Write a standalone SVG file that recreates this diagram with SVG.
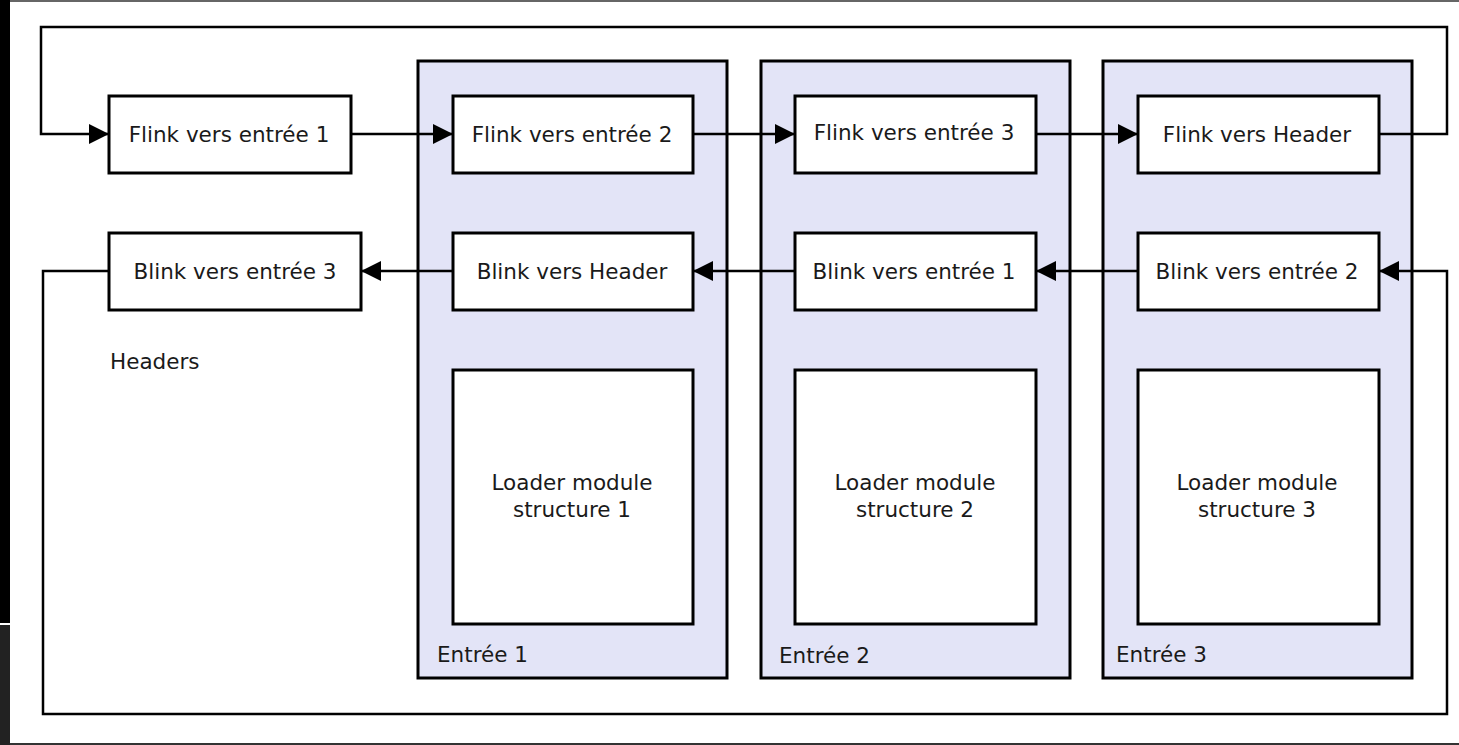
<svg xmlns="http://www.w3.org/2000/svg" width="1459" height="745" viewBox="0 0 1459 745">
<style>
.node{fill:#ffffff;stroke:#000;stroke-width:3}
.cont{fill:#e3e4f7;stroke:#000;stroke-width:3}
.wire{fill:none;stroke:#000;stroke-width:2.5}
text{font-family:"DejaVu Sans",Verdana,sans-serif;font-size:21.5px;fill:#1a1a1a}
.c{text-anchor:middle}
</style>
<defs>
<marker id="ah" viewBox="0 0 20 20" refX="20" refY="10" markerWidth="20" markerHeight="20" markerUnits="userSpaceOnUse" orient="auto">
<path d="M0,0 L20,10 L0,20 Z" fill="#000"/>
</marker>
</defs>
<rect x="0" y="0" width="1459" height="745" fill="#ffffff"/>
<rect x="0" y="0" width="1459" height="2" fill="#666"/>
<rect x="0" y="743" width="1459" height="2" fill="#333"/>
<rect x="0" y="0" width="10" height="623" fill="#000"/>
<rect x="0" y="625" width="10" height="120" fill="#222"/>

<g id="entree1">
<rect class="cont" x="418" y="61" width="309" height="617"/>
<text x="437" y="662">Entrée 1</text>
</g>
<g id="entree2">
<rect class="cont" x="761" y="61" width="309" height="617"/>
<text x="779" y="663">Entrée 2</text>
</g>
<g id="entree3">
<rect class="cont" x="1103" y="61" width="309" height="617"/>
<text x="1116" y="662">Entrée 3</text>
</g>

<g id="headers-label"><text x="110" y="369">Headers</text></g>

<g id="flink1"><rect class="node" x="109" y="96" width="242" height="77"/><text class="c" x="229" y="142">Flink vers entrée 1</text></g>
<g id="blink3"><rect class="node" x="109" y="233" width="252" height="77"/><text class="c" x="235" y="279">Blink vers entrée 3</text></g>

<g id="flink2"><rect class="node" x="453" y="96" width="240" height="77"/><text class="c" x="572" y="142">Flink vers entrée 2</text></g>
<g id="blinkh"><rect class="node" x="453" y="233" width="240" height="77"/><text class="c" x="572" y="279">Blink vers Header</text></g>
<g id="loader1"><rect class="node" x="453" y="370" width="240" height="254"/><text class="c" x="572" y="490">Loader module</text><text class="c" x="572" y="517">structure 1</text></g>

<g id="flink3"><rect class="node" x="795" y="96" width="241" height="77"/><text class="c" x="914" y="140">Flink vers entrée 3</text></g>
<g id="blink1"><rect class="node" x="795" y="233" width="241" height="77"/><text class="c" x="914" y="279">Blink vers entrée 1</text></g>
<g id="loader2"><rect class="node" x="795" y="370" width="241" height="254"/><text class="c" x="915" y="490">Loader module</text><text class="c" x="915" y="517">structure 2</text></g>

<g id="flinkh"><rect class="node" x="1138" y="96" width="241" height="77"/><text class="c" x="1257" y="142">Flink vers Header</text></g>
<g id="blink2"><rect class="node" x="1138" y="233" width="241" height="77"/><text class="c" x="1257" y="279">Blink vers entrée 2</text></g>
<g id="loader3"><rect class="node" x="1138" y="370" width="241" height="254"/><text class="c" x="1257" y="490">Loader module</text><text class="c" x="1257" y="517">structure 3</text></g>

<g id="connectors">
<path class="wire" d="M1379,134 H1447 V27 H41 V134 H109" marker-end="url(#ah)"/>
<path class="wire" d="M351,134 H453" marker-end="url(#ah)"/>
<path class="wire" d="M693,134 H795" marker-end="url(#ah)"/>
<path class="wire" d="M1036,134 H1138" marker-end="url(#ah)"/>
<path class="wire" d="M109,271 H43 V714 H1447 V271 H1379" marker-end="url(#ah)"/>
<path class="wire" d="M1138,271 H1036" marker-end="url(#ah)"/>
<path class="wire" d="M795,271 H693" marker-end="url(#ah)"/>
<path class="wire" d="M453,271 H361" marker-end="url(#ah)"/>
</g>
</svg>
